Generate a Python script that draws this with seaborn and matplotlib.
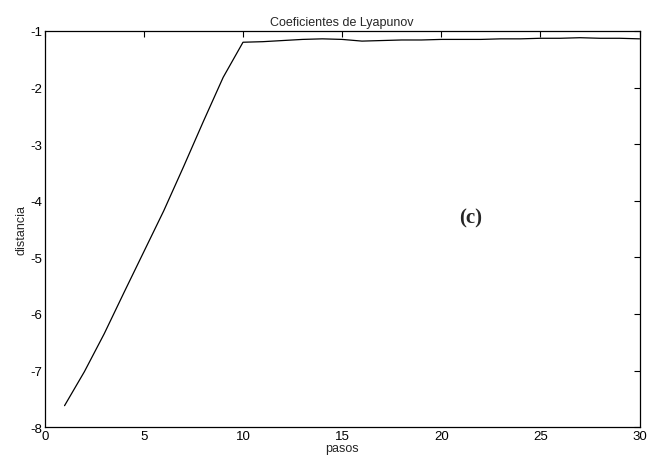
"""
Coeficientes de Lyapunov - distancia vs pasos
"""

import pandas as pd
import matplotlib
matplotlib.use('Agg')
import matplotlib.pyplot as plt
import seaborn as sns

# values
pasos = list(range(1, 31))
distancia = [-7.62, -7.02, -6.35, -5.62, -4.90, -4.18, -3.40, -2.60, -1.82, -1.20,
             -1.19, -1.17, -1.15, -1.14, -1.15, -1.18, -1.17, -1.16, -1.16, -1.15,
             -1.15, -1.15, -1.14, -1.14, -1.13, -1.13, -1.12, -1.13, -1.13, -1.14]

x_ticks = [0, 5, 10, 15, 20, 25, 30]
y_ticks = [-8, -7, -6, -5, -4, -3, -2, -1]


def plot_lyapunov():
    """Draw the Lyapunov coefficient curve"""
    df = pd.DataFrame({'pasos': pasos, 'distancia': distancia})

    sns.set_style('white')
    plt.rcParams['font.family'] = ['Liberation Sans', 'DejaVu Sans']
    plt.rcParams['axes.unicode_minus'] = False

    fig = plt.figure(figsize=(6.48, 4.56), dpi=100)
    ax = fig.add_axes([0.069, 0.061, 0.918, 0.869])

    sns.lineplot(data=df, x='pasos', y='distancia', color='black',
                 linewidth=0.9, ax=ax)

    ax.set_xlim(0, 30)
    ax.set_ylim(-8, -1)
    ax.set_xticks(x_ticks)
    ax.set_yticks(y_ticks)
    ax.tick_params(direction='in', top=True, right=True, length=4,
                   width=0.8, labelsize=9.5, colors='black', pad=2)
    for side in ax.spines.values():
        side.set_color('black')
        side.set_linewidth(0.9)

    ax.set_title('Coeficientes de Lyapunov', fontsize=9, pad=4)
    ax.set_xlabel('pasos', fontsize=9, labelpad=0)
    ax.set_ylabel('distancia', fontsize=9, labelpad=2)

    # panel tag
    ax.text(21.5, -4.3, '(c)', fontsize=15, fontweight='bold',
            family='Liberation Serif', ha='center', va='center')

    fig.savefig('out.png', dpi=100)


if __name__ == "__main__":
    plot_lyapunov()
